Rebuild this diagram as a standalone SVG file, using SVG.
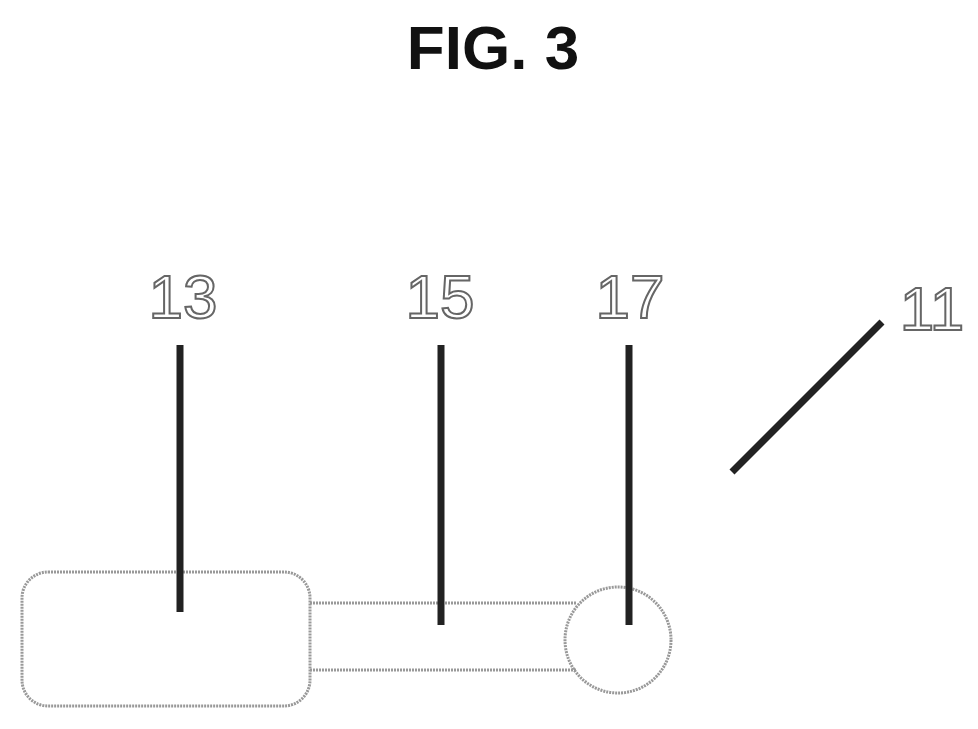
<svg xmlns="http://www.w3.org/2000/svg" width="978" height="729" viewBox="0 0 978 729">
<style>
.sh{fill:none;stroke:#999;stroke-width:3;stroke-dasharray:2 1}
.ld{stroke:#222;stroke-width:7}
.lb{font-family:"Liberation Sans",Arial,sans-serif;font-size:62px;fill:#fff;stroke:#666;stroke-width:2;text-anchor:middle}
</style>
<rect width="978" height="729" fill="#fff"/>
<text x="493" y="69" font-family="Liberation Sans,Arial,sans-serif" font-weight="bold" font-size="62" text-anchor="middle" fill="#111">FIG. 3</text>
<g id="n13"><rect class="sh" x="22" y="572" width="288" height="134" rx="26"/></g>
<g id="n15"><path class="sh" d="M310 603H576M310 670H576"/></g>
<g id="n17"><circle class="sh" cx="618" cy="640" r="53"/></g>
<g id="connectors">
<line class="ld" x1="180" y1="345" x2="180" y2="612"/>
<line class="ld" x1="441" y1="345" x2="441" y2="625"/>
<line class="ld" x1="629" y1="345" x2="629" y2="625"/>
<line class="ld" x1="882" y1="322" x2="732" y2="472"/>
</g>
<g id="labels">
<text class="lb" x="183" y="318">13</text>
<text class="lb" x="440" y="318">15</text>
<text class="lb" x="630" y="318">17</text>
<text class="lb" x="932" y="330">11</text>
</g>
</svg>
